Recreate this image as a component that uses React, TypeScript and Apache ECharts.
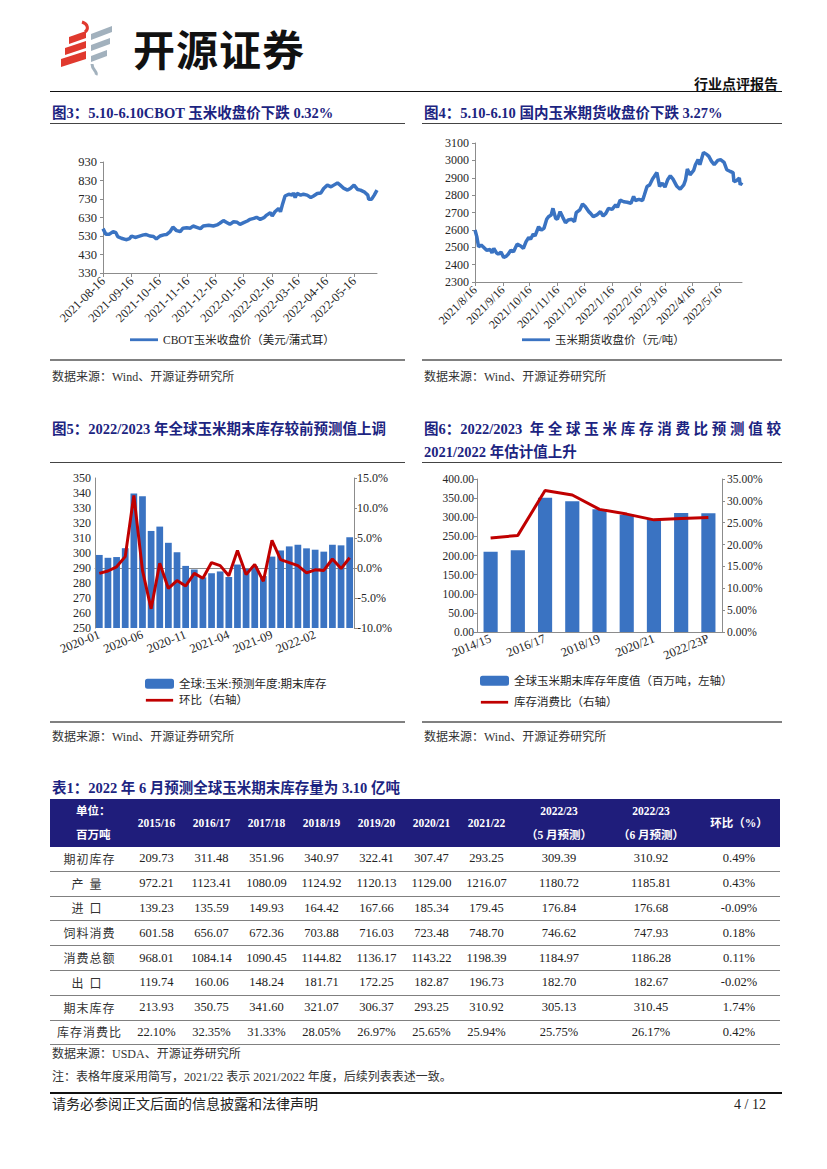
import React, { useEffect, useRef } from "react";
import * as echarts from "echarts";

const SERIF = "'Liberation Serif','Times New Roman','Noto Sans CJK SC',serif";
const NAVY = "#1c2481";
const BLUE = "#3a73c2";
const RED = "#c00000";
const AXIS_GRAY = "#8c8c8c";
const TEXT = "#262626";
const LINE_ICON = "path://M0,0 M0,4 L30,4 L30,7 L0,7 Z M30,11";

// ---------- Figure 3: CBOT corn close ----------
const CBOT_NAME = "CBOT玉米收盘价（美元/蒲式耳）";
const CBOT_TICKS = ["2021-08-16", "2021-09-16", "2021-10-16", "2021-11-16", "2021-12-16", "2022-01-16", "2022-02-16", "2022-03-16", "2022-04-16", "2022-05-16"];
const CBOT_DATES = [
  "2021-08-16", "2021-08-19", "2021-08-23", "2021-08-27", "2021-08-30", "2021-09-01", "2021-09-05", "2021-09-10", "2021-09-14", "2021-09-16",
  "2021-09-20", "2021-09-23", "2021-09-29", "2021-10-02", "2021-10-06", "2021-10-10", "2021-10-13", "2021-10-17", "2021-10-21", "2021-10-24",
  "2021-10-28", "2021-10-31", "2021-11-04", "2021-11-08", "2021-11-11", "2021-11-15", "2021-11-19", "2021-11-22", "2021-11-26", "2021-11-30",
  "2021-12-03", "2021-12-09", "2021-12-14", "2021-12-18", "2021-12-21", "2021-12-25", "2021-12-29", "2022-01-01", "2022-01-05", "2022-01-09",
  "2022-01-12", "2022-01-16", "2022-01-20", "2022-01-23", "2022-01-27", "2022-01-30", "2022-02-03", "2022-02-07", "2022-02-10", "2022-02-14",
  "2022-02-16", "2022-02-19", "2022-02-23", "2022-02-25", "2022-02-27", "2022-03-02", "2022-03-06", "2022-03-10", "2022-03-11", "2022-03-13",
  "2022-03-15", "2022-03-19", "2022-03-22", "2022-03-26", "2022-03-30", "2022-04-02", "2022-04-06", "2022-04-10", "2022-04-13", "2022-04-17",
  "2022-04-21", "2022-04-24", "2022-04-28", "2022-05-01", "2022-05-05", "2022-05-09", "2022-05-12", "2022-05-16", "2022-05-20", "2022-05-23",
  "2022-05-27", "2022-05-31", "2022-06-01", "2022-06-04", "2022-06-07", "2022-06-10",
];
const CBOT_PRICES = [
  570, 540, 540, 554, 548, 527, 518, 510, 516, 530,
  522, 527, 536, 538, 530, 527, 514, 530, 536, 538,
  554, 578, 559, 554, 572, 575, 572, 584, 577, 570,
  584, 588, 584, 590, 599, 613, 602, 593, 607, 604,
  593, 602, 611, 620, 625, 631, 620, 629, 643, 656,
  638, 661, 679, 661, 697, 746, 756, 751, 763, 738,
  760, 751, 756, 751, 738, 746, 760, 763, 787, 805,
  796, 805, 817, 805, 787, 778, 787, 805, 781, 778,
  769, 751, 728, 728, 751, 778,
];

// ---------- Figure 4: domestic corn futures close ----------
const DCE_NAME = "玉米期货收盘价（元/吨）";
const DCE_TICKS = ["2021/8/16", "2021/9/16", "2021/10/16", "2021/11/16", "2021/12/16", "2022/1/16", "2022/2/16", "2022/3/16", "2022/4/16", "2022/5/16"];
const DCE_DATES = [
  "2021-08-16", "2021-08-18", "2021-08-20", "2021-08-23", "2021-08-25", "2021-08-29", "2021-09-02", "2021-09-04", "2021-09-06", "2021-09-09",
  "2021-09-11", "2021-09-14", "2021-09-17", "2021-09-20", "2021-09-22", "2021-09-25", "2021-09-28", "2021-10-02", "2021-10-06", "2021-10-09",
  "2021-10-12", "2021-10-15", "2021-10-17", "2021-10-20", "2021-10-22", "2021-10-26", "2021-10-29", "2021-11-01", "2021-11-04", "2021-11-06",
  "2021-11-09", "2021-11-11", "2021-11-14", "2021-11-16", "2021-11-19", "2021-11-22", "2021-11-25", "2021-11-28", "2021-12-02", "2021-12-05",
  "2021-12-07", "2021-12-11", "2021-12-14", "2021-12-17", "2021-12-21", "2021-12-23", "2021-12-26", "2021-12-30", "2022-01-03", "2022-01-06",
  "2022-01-09", "2022-01-12", "2022-01-16", "2022-01-20", "2022-01-22", "2022-01-25", "2022-01-29", "2022-02-02", "2022-02-06", "2022-02-09",
  "2022-02-11", "2022-02-15", "2022-02-19", "2022-02-21", "2022-02-24", "2022-02-27", "2022-03-02", "2022-03-04", "2022-03-07", "2022-03-10",
  "2022-03-13", "2022-03-16", "2022-03-19", "2022-03-22", "2022-03-25", "2022-03-29", "2022-04-02", "2022-04-06", "2022-04-08", "2022-04-10",
  "2022-04-13", "2022-04-17", "2022-04-19", "2022-04-22", "2022-04-24", "2022-04-28", "2022-05-02", "2022-05-04", "2022-05-07", "2022-05-10",
  "2022-05-14", "2022-05-17", "2022-05-21", "2022-05-24", "2022-05-28", "2022-05-31", "2022-06-01", "2022-06-04", "2022-06-07", "2022-06-08",
  "2022-06-10",
];
const DCE_PRICES = [
  2599, 2561, 2503, 2512, 2503, 2483, 2487, 2468, 2493, 2468,
  2460, 2472, 2441, 2449, 2460, 2483, 2474, 2518, 2507, 2493,
  2532, 2557, 2546, 2576, 2565, 2618, 2599, 2609, 2661, 2676,
  2686, 2724, 2666, 2661, 2705, 2672, 2641, 2657, 2661, 2647,
  2699, 2715, 2749, 2734, 2705, 2695, 2676, 2686, 2705, 2680,
  2695, 2724, 2718, 2744, 2730, 2772, 2762, 2759, 2753, 2792,
  2769, 2776, 2769, 2801, 2850, 2859, 2892, 2907, 2930, 2850,
  2869, 2846, 2888, 2911, 2892, 2853, 2834, 2859, 2888, 2950,
  2917, 2942, 2975, 3004, 2975, 3046, 3033, 3023, 2994, 2975,
  3000, 3004, 2988, 2946, 2936, 2930, 2878, 2884, 2898, 2859,
  2873,
];

// ---------- Figure 5: projected-year global ending stocks (monthly) ----------
const STOCK_NAME = "全球:玉米:预测年度:期末库存";
const MOM_NAME = "环比（右轴）";
const STOCK_MONTHS = [
  "2020-01", "2020-02", "2020-03", "2020-04", "2020-05", "2020-06", "2020-07", "2020-08", "2020-09", "2020-10",
  "2020-11", "2020-12", "2021-01", "2021-02", "2021-03", "2021-04", "2021-05", "2021-06", "2021-07", "2021-08",
  "2021-09", "2021-10", "2021-11", "2021-12", "2022-01", "2022-02", "2022-03", "2022-04", "2022-05", "2022-06",
];
const STOCK_VALUES = [
  298.7, 296.8, 297.3, 303.2, 339.6, 337.9, 314.7, 317.6, 306.8, 300.5,
  291.4, 289.0, 283.8, 286.5, 287.7, 284.0, 292.3, 289.4, 291.2, 284.6,
  297.6, 301.7, 304.4, 305.5, 303.1, 302.2, 300.9, 305.5, 305.1, 310.5,
];
const STOCK_MOM = [
  -0.9, -0.5, 0.2, 1.9, 12.1, -0.4, -6.8, 0.8, -3.4, -2.1,
  -3.0, -0.9, -1.7, 0.9, 0.4, -1.3, 2.9, -1.1, 0.6, -2.2,
  4.6, 1.4, 0.9, 0.4, -0.8, -0.3, -0.4, 1.5, -0.1, 1.7,
];

// ---------- Figure 6: annual ending stocks & stocks-to-use ----------
const SEASON_STOCK_NAME = "全球玉米期末库存年度值（百万吨，左轴）";
const SEASON_RATIO_NAME = "库存消费比（右轴）";
const SEASONS = ["2014/15", "2015/16", "2016/17", "2017/18", "2018/19", "2019/20", "2020/21", "2021/22", "2022/23P"];
const SEASON_STOCKS = [209.73, 213.93, 350.75, 341.6, 321.07, 306.37, 293.25, 310.92, 310.45];
const SEASON_RATIO = [21.5, 22.1, 32.35, 31.33, 28.05, 26.97, 25.65, 25.94, 26.17];

// ---------- Table 1 ----------
const TABLE_YEARS = ["2015/16", "2016/17", "2017/18", "2018/19", "2019/20", "2020/21", "2021/22"];
const TABLE_ROW_LABELS = ["期初库存", "产量", "进口", "饲料消费", "消费总额", "出口", "期末库存", "库存消费比"];
const TABLE_VALUES = [
  ["209.73", "311.48", "351.96", "340.97", "322.41", "307.47", "293.25", "309.39", "310.92", "0.49%"],
  ["972.21", "1123.41", "1080.09", "1124.92", "1120.13", "1129.00", "1216.07", "1180.72", "1185.81", "0.43%"],
  ["139.23", "135.59", "149.93", "164.42", "167.66", "185.34", "179.45", "176.84", "176.68", "-0.09%"],
  ["601.58", "656.07", "672.36", "703.88", "716.03", "723.48", "748.70", "746.62", "747.93", "0.18%"],
  ["968.01", "1084.14", "1090.45", "1144.82", "1136.17", "1143.22", "1198.39", "1184.97", "1186.28", "0.11%"],
  ["119.74", "160.06", "148.24", "181.71", "172.25", "182.87", "196.73", "182.70", "182.67", "-0.02%"],
  ["213.93", "350.75", "341.60", "321.07", "306.37", "293.25", "310.92", "305.13", "310.45", "1.74%"],
  ["22.10%", "32.35%", "31.33%", "28.05%", "26.97%", "25.65%", "25.94%", "25.75%", "26.17%", "0.42%"],
];
const TABLE_COL_WIDTHS = [79, 55, 55, 55, 55, 55, 55, 55, 90, 94, 82];

// ---------- helpers ----------
const ts = (s: string) => {
  const [y, m, d] = s.split(/[-/]/).map(Number);
  return new Date(y, m - 1, d).getTime();
};
const lbl = (size: number) => ({ fontFamily: SERIF, fontSize: size, color: TEXT });

function timeLineOption(
  name: string,
  ticks: string[],
  dates: string[],
  values: number[],
  yMin: number,
  yMax: number,
  grid: any,
  legendLeft: number,
  fontSize: number,
  lineWidth: number
) {
  const tvals = ticks.map(ts);
  const formatTick = (v: number) => {
    let best = "";
    let bestD = Infinity;
    tvals.forEach((t, i) => {
      const d = Math.abs(t - v);
      if (d < bestD) {
        bestD = d;
        best = ticks[i];
      }
    });
    return bestD < 36e5 * 30 ? best : "";
  };
  return {
    animation: false,
    grid,
    legend: {
      left: legendLeft,
      top: 204,
      padding: 0,
      itemWidth: 28,
      itemHeight: 11,
      textStyle: lbl(11.5),
      data: [{ name, icon: LINE_ICON }],
    },
    xAxis: {
      type: "value",
      min: ts(dates[0]),
      max: ts(dates[dates.length - 1]),
      axisLine: { show: true, onZero: false, lineStyle: { color: AXIS_GRAY } },
      axisTick: { show: true, customValues: tvals, length: 4, lineStyle: { color: AXIS_GRAY } },
      axisLabel: {
        customValues: tvals,
        rotate: 45,
        margin: 6,
        hideOverlap: false,
        showMinLabel: true,
        showMaxLabel: true,
        formatter: (v: number) => formatTick(v),
        ...lbl(fontSize),
      },
      splitLine: { show: false },
    },
    yAxis: {
      type: "value",
      min: yMin,
      max: yMax,
      interval: 100,
      axisLine: { show: true, lineStyle: { color: AXIS_GRAY } },
      axisTick: { show: true, length: 3, lineStyle: { color: AXIS_GRAY } },
      axisLabel: { margin: 6, formatter: (v: number) => String(v), ...lbl(fontSize) },
      splitLine: { show: false },
    },
    series: [
      {
        type: "line",
        name,
        data: dates.map((d, i) => [ts(d), values[i]]),
        symbol: "none",
        showSymbol: false,
        lineStyle: { width: lineWidth, color: BLUE },
        itemStyle: { color: BLUE },
      },
    ],
  };
}

const OPT3 = timeLineOption(CBOT_NAME, CBOT_TICKS, CBOT_DATES, CBOT_PRICES, 330, 930, { left: 53, top: 32, width: 274, height: 111 }, 80, 12.5, 3.5);
const OPT4 = timeLineOption(DCE_NAME, DCE_TICKS, DCE_DATES, DCE_PRICES, 2300, 3100, { left: 53, top: 13, width: 267, height: 139 }, 100, 12, 3.5);

const OPT5 = {
  animation: false,
  grid: { left: 45, top: 13, width: 259, height: 150 },
  legend: {
    orient: "vertical",
    left: 95,
    top: 213,
    padding: 0,
    itemWidth: 29,
    itemHeight: 10,
    itemGap: 5,
    textStyle: lbl(11.5),
    data: [STOCK_NAME, { name: MOM_NAME, icon: LINE_ICON }],
  },
  xAxis: {
    type: "category",
    data: STOCK_MONTHS,
    axisLine: { lineStyle: { color: AXIS_GRAY } },
    axisTick: { show: false },
    axisLabel: { interval: 4, rotate: 22, margin: 6, ...lbl(12.5) },
  },
  yAxis: [
    {
      type: "value",
      min: 250,
      max: 350,
      interval: 10,
      axisLine: { show: true, lineStyle: { color: AXIS_GRAY } },
      axisTick: { show: false },
      axisLabel: { margin: 4, ...lbl(12) },
      splitLine: { show: false },
    },
    {
      type: "value",
      min: -10,
      max: 15,
      interval: 5,
      axisLine: { show: true, lineStyle: { color: AXIS_GRAY } },
      axisTick: { show: true, length: 3, lineStyle: { color: AXIS_GRAY } },
      axisLabel: { margin: 3, formatter: (v: number) => v.toFixed(1) + "%", ...lbl(12) },
      splitLine: { show: false },
    },
  ],
  series: [
    {
      type: "bar",
      name: STOCK_NAME,
      data: STOCK_VALUES,
      barCategoryGap: "22%",
      itemStyle: { color: BLUE },
    },
    {
      type: "line",
      name: MOM_NAME,
      yAxisIndex: 1,
      data: STOCK_MOM,
      symbol: "none",
      showSymbol: false,
      lineStyle: { width: 3, color: RED },
      itemStyle: { color: RED },
    },
  ],
};

const OPT6 = {
  animation: false,
  grid: { left: 55, top: 14, width: 245, height: 153 },
  legend: {
    orient: "vertical",
    left: 58,
    top: 210,
    padding: 0,
    itemWidth: 29,
    itemHeight: 10,
    itemGap: 10,
    textStyle: lbl(11.5),
    data: [SEASON_STOCK_NAME, { name: SEASON_RATIO_NAME, icon: LINE_ICON }],
  },
  xAxis: {
    type: "category",
    data: SEASONS,
    axisLine: { lineStyle: { color: AXIS_GRAY } },
    axisTick: { show: false },
    axisLabel: { interval: 1, rotate: 22, margin: 6, ...lbl(12.5) },
  },
  yAxis: [
    {
      type: "value",
      min: 0,
      max: 400,
      interval: 50,
      axisLine: { show: true, lineStyle: { color: AXIS_GRAY } },
      axisTick: { show: true, length: 3, lineStyle: { color: AXIS_GRAY } },
      axisLabel: { margin: 3, formatter: (v: number) => v.toFixed(2), ...lbl(11.5) },
      splitLine: { show: false },
    },
    {
      type: "value",
      min: 0,
      max: 35,
      interval: 5,
      axisLine: { show: true, lineStyle: { color: AXIS_GRAY } },
      axisTick: { show: true, length: 3, lineStyle: { color: AXIS_GRAY } },
      axisLabel: { margin: 5, formatter: (v: number) => v.toFixed(2) + "%", ...lbl(11.5) },
      splitLine: { show: false },
    },
  ],
  series: [
    {
      type: "bar",
      name: SEASON_STOCK_NAME,
      data: SEASON_STOCKS,
      barCategoryGap: "48%",
      itemStyle: { color: BLUE },
    },
    {
      type: "line",
      name: SEASON_RATIO_NAME,
      yAxisIndex: 1,
      data: SEASON_RATIO,
      symbol: "none",
      showSymbol: false,
      lineStyle: { width: 3, color: RED },
      itemStyle: { color: RED },
    },
  ],
};

function Chart({ option, left, top, width, height }: any) {
  const ref = useRef<HTMLDivElement>(null);
  useEffect(() => {
    const c = echarts.init(ref.current as HTMLDivElement, undefined, { renderer: "svg" });
    c.setOption(option);
    return () => c.dispose();
  }, [option]);
  return <div ref={ref} style={{ position: "absolute", left, top, width, height }} />;
}

const Txt = ({ x, y, size = 12, bold = false, color = TEXT, children, style }: any) => (
  <div
    style={{
      position: "absolute",
      left: x,
      top: y,
      fontSize: size,
      fontWeight: bold ? 700 : 400,
      color,
      lineHeight: `${size + 4}px`,
      whiteSpace: "nowrap",
      fontFamily: SERIF,
      ...style,
    }}
  >
    {children}
  </div>
);

const HLine = ({ x1, x2, y, h = 1, color = "#444" }: any) => (
  <div style={{ position: "absolute", left: x1, top: y, width: x2 - x1, height: h, background: color }} />
);

function Logo() {
  return (
    <svg style={{ position: "absolute", left: 58, top: 20 }} width={60} height={56} viewBox="0 0 60 56">
      <path d="M24 2 C30 4 31 9 27 12" stroke="#e0392e" strokeWidth={3} fill="none" />
      <polygon points="11,17 28,11 28,18 11,24" fill="#e0392e" />
      <polygon points="7,28 28,21 28,28 7,35" fill="#e0392e" />
      <polygon points="3,39 28,31 28,39 3,47" fill="#e0392e" />
      <polygon points="33,14 54,6 54,12 33,20" fill="#a2b1bd" />
      <polygon points="33,25 52,18 52,24 33,31" fill="#a2b1bd" />
      <polygon points="33,36 49,30 49,36 33,42" fill="#a2b1bd" />
      <path d="M34 44 C34 50 40 52 38 55" stroke="#a2b1bd" strokeWidth={3} fill="none" />
    </svg>
  );
}

function DataTable() {
  const headCell: any = {
    color: "#fff",
    fontWeight: 700,
    fontSize: 11.5,
    textAlign: "center",
    padding: 0,
    lineHeight: "24px",
    fontFamily: SERIF,
  };
  const bodyCell: any = {
    fontSize: 12.5,
    textAlign: "center",
    padding: 0,
    height: 23.8,
    color: "#222",
    borderBottom: "1.5px solid #808080",
    fontFamily: SERIF,
  };
  return (
    <table
      style={{
        position: "absolute",
        left: 50,
        top: 799,
        width: 730,
        borderCollapse: "collapse",
        tableLayout: "fixed",
      }}
    >
      <colgroup>
        {TABLE_COL_WIDTHS.map((w, i) => (
          <col key={i} style={{ width: w }} />
        ))}
      </colgroup>
      <thead>
        <tr style={{ background: "#1f1d7b", height: 46 }}>
          <th style={{ ...headCell, textAlign: "left", paddingLeft: 26 }}>
            单位：
            <br />
            百万吨
          </th>
          {TABLE_YEARS.map((y) => (
            <th key={y} style={headCell}>
              {y}
            </th>
          ))}
          <th style={headCell}>
            2022/23
            <br />
            （5 月预测）
          </th>
          <th style={headCell}>
            2022/23
            <br />
            （6 月预测）
          </th>
          <th style={headCell}>环比（%）</th>
        </tr>
      </thead>
      <tbody>
        {TABLE_ROW_LABELS.map((label, r) => (
          <tr key={label}>
            <td style={{ ...bodyCell, fontSize: 12, color: "#333", letterSpacing: label.length <= 2 ? 6 : 1 }}>{label}</td>
            {TABLE_VALUES[r].map((v, c) => (
              <td key={c} style={bodyCell}>
                {v}
              </td>
            ))}
          </tr>
        ))}
      </tbody>
    </table>
  );
}

export default function App() {
  return (
    <div
      style={{
        position: "absolute",
        left: 0,
        top: 0,
        width: 827,
        height: 1169,
        background: "#fff",
        overflow: "hidden",
        fontFamily: SERIF,
      }}
    >
      <Logo />
      <div
        style={{
          position: "absolute",
          left: 133,
          top: 25,
          fontSize: 42,
          lineHeight: "46px",
          fontWeight: 700,
          letterSpacing: 1,
          fontFamily: "'Noto Sans CJK SC', sans-serif",
          color: "#111",
        }}
      >
        开源证券
      </div>
      <Txt x={694} y={76} size={14} bold color="#111">
        行业点评报告
      </Txt>
      <HLine x1={50} x2={782} y={91} h={1.2} color="#111" />

      {/* Figure 3 & 4 */}
      <Txt x={52} y={104} size={14.5} bold color={NAVY}>
        图3：5.10-6.10CBOT 玉米收盘价下跌 0.32%
      </Txt>
      <Txt x={424} y={104} size={14.5} bold color={NAVY}>
        图4：5.10-6.10 国内玉米期货收盘价下跌 3.27%
      </Txt>
      <HLine x1={50} x2={405} y={123} />
      <HLine x1={422} x2={782} y={123} />
      <Chart option={OPT3} left={50} top={130} width={355} height={228} />
      <Chart option={OPT4} left={422} top={130} width={360} height={228} />
      <HLine x1={50} x2={405} y={359} h={2} color="#808080" />
      <HLine x1={422} x2={782} y={359} h={2} color="#808080" />
      <Txt x={52} y={369} size={12} color="#333">
        数据来源：Wind、开源证券研究所
      </Txt>
      <Txt x={424} y={369} size={12} color="#333">
        数据来源：Wind、开源证券研究所
      </Txt>

      {/* Figure 5 & 6 */}
      <Txt x={52} y={420} size={14.5} bold color={NAVY}>
        图5：2022/2023 年全球玉米期末库存较前预测值上调
      </Txt>
      <div
        style={{
          position: "absolute",
          left: 424,
          top: 420,
          width: 357,
          fontSize: 14.5,
          fontWeight: 700,
          color: NAVY,
          lineHeight: "18px",
          textAlign: "justify",
          textAlignLast: "justify",
          whiteSpace: "nowrap",
          fontFamily: SERIF,
        }}
      >
        <span style={{ display: "inline-block" }}>图6：2022/2023</span> 年全球玉米库存消费比预测值较
      </div>
      <Txt x={424} y={443} size={14.5} bold color={NAVY}>
        2021/2022 年估计值上升
      </Txt>
      <HLine x1={50} x2={405} y={462} />
      <HLine x1={422} x2={782} y={462} />
      <Chart option={OPT5} left={50} top={465} width={355} height={255} />
      <Chart option={OPT6} left={422} top={465} width={360} height={255} />
      <HLine x1={50} x2={405} y={721} h={2} color="#808080" />
      <HLine x1={422} x2={782} y={721} h={2} color="#808080" />
      <Txt x={52} y={729} size={12} color="#333">
        数据来源：Wind、开源证券研究所
      </Txt>
      <Txt x={424} y={729} size={12} color="#333">
        数据来源：Wind、开源证券研究所
      </Txt>

      {/* Table 1 */}
      <Txt x={52} y={779} size={14.5} bold color={NAVY}>
        表1：2022 年 6 月预测全球玉米期末库存量为 3.10 亿吨
      </Txt>
      <DataTable />
      <Txt x={52} y={1046} size={12} color="#333">
        数据来源：USDA、开源证券研究所
      </Txt>
      <Txt x={52} y={1069} size={12} color="#333">
        注：表格年度采用简写，2021/22 表示 2021/2022 年度，后续列表表述一致。
      </Txt>
      <HLine x1={50} x2={782} y={1092} h={1.5} color="#111" />
      <Txt x={52} y={1096} size={14} color="#222">
        请务必参阅正文后面的信息披露和法律声明
      </Txt>
      <Txt x={734} y={1096} size={14} color="#222">
        4 / 12
      </Txt>
    </div>
  );
}
